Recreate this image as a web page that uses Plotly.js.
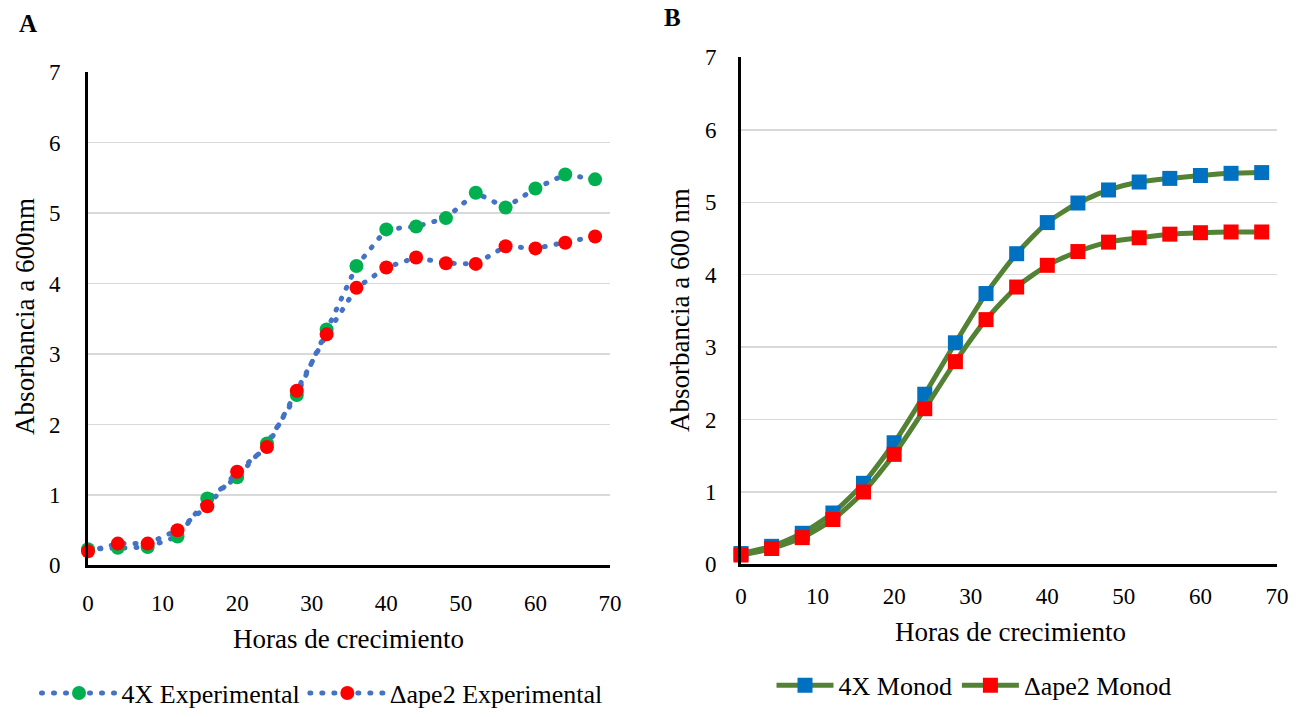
<!DOCTYPE html>
<html>
<head>
<meta charset="utf-8">
<script src="https://cdn.plot.ly/plotly-3.0.1.min.js"></script>
<style>
  html, body { margin: 0; padding: 0; background: #fff; }
  #chart { width: 1305px; height: 717px; }
</style>
</head>
<body>
<div id="chart"></div>
<script>
// ---- Data ----
const hours = [0, 4, 8, 12, 16, 20, 24, 28, 32, 36, 40, 44, 48, 52, 56, 60, 64, 68];
const exp4X = [0.23, 0.25, 0.26, 0.41, 0.95, 1.25, 1.73, 2.42, 3.35, 4.25, 4.77, 4.81, 4.93, 5.29, 5.08, 5.35, 5.55, 5.48];
const expApe2 = [0.20, 0.31, 0.31, 0.50, 0.84, 1.33, 1.68, 2.48, 3.28, 3.94, 4.23, 4.37, 4.29, 4.28, 4.53, 4.50, 4.58, 4.67];
const monod4X = [0.15, 0.25, 0.43, 0.71, 1.12, 1.68, 2.35, 3.06, 3.74, 4.29, 4.72, 4.99, 5.17, 5.28, 5.33, 5.37, 5.40, 5.41];
const monodApe2 = [0.13, 0.22, 0.37, 0.62, 1.00, 1.52, 2.15, 2.80, 3.38, 3.83, 4.13, 4.32, 4.45, 4.51, 4.56, 4.58, 4.59, 4.59];
const seriesNames = ['4X Experimental', '\u0394ape2 Experimental', '4X Monod', '\u0394ape2 Monod'];
const xTicks = [0, 10, 20, 30, 40, 50, 60, 70];
const yTicks = [0, 1, 2, 3, 4, 5, 6, 7];

const FONT = '"Liberation Serif", "Times New Roman", serif';
const W = 1305, H = 717;
const px = v => v / W;
const py = v => (H - v) / H;

const dotLine = { color: '#4472C4', width: 5, dash: '1px,11px' };

const traces = [
  { x: hours, y: exp4X, name: seriesNames[0], type: 'scatter', mode: 'lines+markers',
    line: dotLine, marker: { color: '#00B050', size: 14 }, xaxis: 'x', yaxis: 'y',
    cliponaxis: false, legend: 'legend' },
  { x: hours, y: expApe2, name: seriesNames[1], type: 'scatter', mode: 'lines+markers',
    line: dotLine, marker: { color: '#FF0000', size: 14 }, xaxis: 'x', yaxis: 'y',
    cliponaxis: false, legend: 'legend' },
  { x: hours, y: monod4X, name: seriesNames[2], type: 'scatter', mode: 'lines+markers',
    line: { color: '#548235', width: 5, shape: 'spline', smoothing: 0.6 },
    marker: { color: '#0070C0', size: 15, symbol: 'square' }, xaxis: 'x2', yaxis: 'y2',
    cliponaxis: false, legend: 'legend2' },
  { x: hours, y: monodApe2, name: seriesNames[3], type: 'scatter', mode: 'lines+markers',
    line: { color: '#548235', width: 5, shape: 'spline', smoothing: 0.6 },
    marker: { color: '#FF0000', size: 15, symbol: 'square' }, xaxis: 'x2', yaxis: 'y2',
    cliponaxis: false, legend: 'legend2' }
];

function xAx(domain, anchor, standoff) {
  return { domain: domain, anchor: anchor, range: [0, 70], tickvals: xTicks,
    showgrid: false, zeroline: false, showline: true, linecolor: '#000', linewidth: 3,
    ticks: '', ticklabelstandoff: standoff, tickfont: { family: FONT, size: 23, color: '#000' },
    fixedrange: true };
}
function yAx(domain, anchor, standoff) {
  return { domain: domain, anchor: anchor, range: [0, 7], tickvals: yTicks,
    showgrid: true, gridcolor: '#D9D9D9', gridwidth: 1.5, zeroline: false,
    showline: true, linecolor: '#000', linewidth: 3, ticks: '',
    ticklabelstandoff: standoff, tickfont: { family: FONT, size: 23, color: '#000' },
    fixedrange: true };
}

function ann(text, x, y, size, angle) {
  return { text: text, x: px(x), y: py(y), xref: 'paper', yref: 'paper', showarrow: false,
    xanchor: 'center', yanchor: 'middle', textangle: angle || 0,
    font: { family: FONT, size: size, color: '#000' } };
}

const layout = {
  width: W, height: H,
  margin: { l: 0, r: 0, t: 0, b: 0 },
  paper_bgcolor: '#fff', plot_bgcolor: '#fff',
  font: { family: FONT, color: '#000' },
  xaxis: xAx([px(88), px(610)], 'y', 15),
  yaxis: yAx([py(571), py(73)], 'x', 20),
  xaxis2: xAx([px(741), px(1277)], 'y2', 9),
  yaxis2: yAx([py(570), py(58)], 'x2', 17),
  showlegend: true,
  legend: { orientation: 'h', x: px(322), xanchor: 'center', y: py(700), yanchor: 'middle',
    font: { family: FONT, size: 26, color: '#000' }, itemwidth: 75, bgcolor: 'rgba(0,0,0,0)' },
  legend2: { orientation: 'h', x: px(974), xanchor: 'center', y: py(692), yanchor: 'middle',
    font: { family: FONT, size: 26, color: '#000' }, itemwidth: 57, bgcolor: 'rgba(0,0,0,0)' },
  annotations: [
    ann('<b>A</b>', 28, 24, 25),
    ann('<b>B</b>', 672, 18, 25),
    ann('Horas de crecimiento', 348, 645, 27),
    ann('Horas de crecimiento', 1010, 638, 27),
    ann('Absorbancia a 600nm', 25, 320, 27, -90),
    ann('Absorbancia a 600 nm', 680, 313, 27, -90)
  ]
};

Plotly.newPlot('chart', traces, layout, { staticPlot: true, displayModeBar: false }).then(gd => {
  // round caps for the dotted experimental lines (in plot and legend)
  gd.querySelectorAll('path.js-line').forEach(p => {
    const da = p.style.strokeDasharray;
    if (da && da.indexOf('11') !== -1) p.style.strokeLinecap = 'round';
  });
});
</script>
</body>
</html>
